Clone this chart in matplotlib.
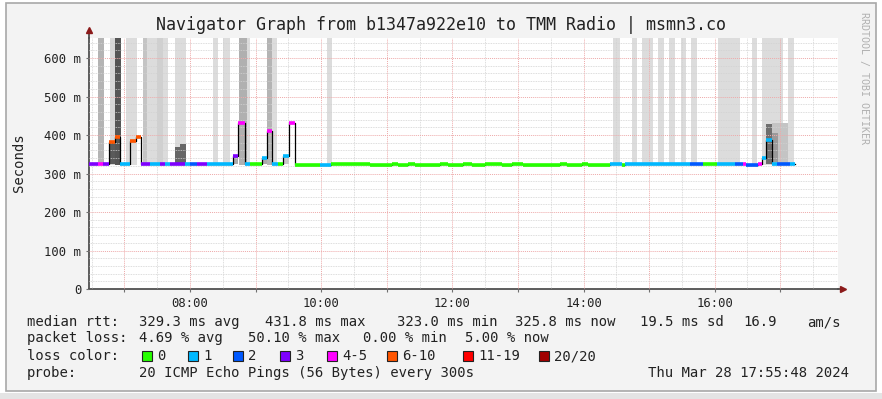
import matplotlib.pyplot as plt
import numpy as np
from matplotlib.patches import Rectangle

# median rtt steps (time in hours, rtt in ms, loss class index)
seg_edges = [6.46, 6.60, 6.67, 6.77, 6.86, 6.93, 7.09, 7.18, 7.25, 7.39, 7.54, 7.62, 7.70,
             7.92, 8.00, 8.11, 8.26, 8.66, 8.73, 8.84, 8.91, 9.10, 9.17, 9.25, 9.34, 9.42,
             9.51, 9.60, 9.98, 10.15, 10.74, 11.08, 11.17, 11.32, 11.43, 11.81, 11.93, 12.16,
             12.30, 12.50, 12.76, 12.91, 13.08, 13.64, 13.75, 13.98, 14.07, 14.40, 14.58,
             14.63, 15.62, 15.82, 16.03, 16.31, 16.43, 16.48, 16.66, 16.72, 16.78, 16.87,
             16.95, 17.15, 17.22]
seg_rtt = [326, 326, 326, 383, 394, 326, 385, 396, 326, 325, 326, 326, 326,
           325, 325, 325, 325, 345, 432, 325, 325, 340, 410, 325, 325, 345,
           430, 323, 323, 325, 322, 325, 322, 325, 322, 325, 322, 325,
           322, 325, 322, 325, 322, 325, 322, 325, 322, 324, 323,
           324, 324, 324, 324, 324, 324, 323, 324, 340, 388, 325,
           325, 325]
seg_loss = [3, 4, 3, 5, 5, 1, 5, 5, 3, 1, 3, 1, 3,
            1, 2, 3, 1, 3, 4, 1, 0, 1, 4, 1, 0, 1,
            4, 0, 1, 0, 0, 0, 0, 0, 0, 0, 0, 0,
            0, 0, 0, 0, 0, 0, 0, 0, 0, 1, 0,
            1, 2, 0, 1, 2, 4, 2, 4, 1, 1, 1,
            2, 1]

# smoke (ping spread) bands
smoke_start = [6.60, 6.78, 6.77, 6.86, 7.02, 7.28, 7.34, 7.50, 7.59, 7.77, 7.77, 7.85,
               8.35, 8.50, 8.66, 8.75, 8.87, 9.10, 9.17, 9.25, 9.42, 10.09,
               14.45, 14.74, 14.89, 15.13, 15.30, 15.48, 15.64, 16.05, 16.57, 16.72,
               16.78, 16.87, 16.87, 17.12]
smoke_end = [6.69, 6.86, 6.86, 6.95, 7.19, 7.34, 7.50, 7.59, 7.66, 7.94, 7.85, 7.94,
             8.43, 8.61, 8.73, 8.87, 8.91, 9.17, 9.25, 9.33, 9.51, 10.16,
             14.55, 14.81, 15.06, 15.23, 15.39, 15.56, 15.73, 16.38, 16.64, 17.04,
             16.87, 17.21, 16.97, 17.21]
smoke_low = [323, 323, 325, 323, 323, 323, 323, 323, 323, 323, 325, 325,
             323, 323, 325, 323, 323, 325, 323, 323, 325, 323,
             323, 323, 323, 323, 323, 323, 323, 323, 323, 323,
             325, 325, 330, 323]
smoke_high = [652, 652, 383, 652, 652, 652, 652, 652, 652, 652, 370, 377,
              652, 652, 345, 652, 652, 340, 652, 652, 345, 652,
              652, 652, 652, 652, 652, 652, 652, 652, 652, 652,
              428, 430, 405, 652]
smoke_shade = ['#b4b4b4', '#d8d8d8', '#5a5a5a', '#555555', '#dcdcdc', '#c4c4c4', '#dcdcdc',
               '#d0d0d0', '#dcdcdc', '#dcdcdc', '#666666', '#666666',
               '#dcdcdc', '#dcdcdc', '#aaaaaa', '#b0b0b0', '#dcdcdc', '#aaaaaa', '#b4b4b4',
               '#dcdcdc', '#c8c8c8', '#dcdcdc',
               '#dcdcdc', '#dcdcdc', '#dcdcdc', '#dcdcdc', '#dcdcdc', '#dcdcdc', '#dcdcdc',
               '#dcdcdc', '#dcdcdc', '#dcdcdc',
               '#6e6e6e', '#c4c4c4', '#9a9a9a', '#dcdcdc']

loss_labels = ['0', '1', '2', '3', '4-5', '6-10', '11-19', '20/20']
loss_colors = ['#26ff00', '#00b8ff', '#0059ff', '#7e00ff', '#ff00ff', '#ff5500', '#ff0000', '#a10000']

hours = [7, 8, 9, 10, 11, 12, 13, 14, 15, 16, 17]
rtt_ticks = [0, 100, 200, 300, 400, 500, 600]

W, H = 882, 399
def fx(px):
    return px / W
def fy(py):
    return 1 - py / H

plt.rcParams['font.family'] = ['DejaVu Sans Mono']

fig = plt.figure(figsize=(W / 100, H / 100), dpi=100, facecolor='white')
fig.patches.append(Rectangle((fx(6), fy(391)), fx(876) - fx(6), fy(3) - fy(391),
                             transform=fig.transFigure, facecolor='#f3f3f3',
                             edgecolor='#a8a8a8', lw=1.2, zorder=-10))
fig.patches.append(Rectangle((0, 0), 1, fy(393), transform=fig.transFigure,
                             facecolor='#e4e4e4', edgecolor='none', zorder=-10))

ax = fig.add_axes([fx(89), fy(289), fx(838) - fx(89), fy(38) - fy(289)])
ax.set_facecolor('white')

# smoke
for s, e, lo, hi, c in zip(smoke_start, smoke_end, smoke_low, smoke_high, smoke_shade):
    ax.fill_between([s, e], lo, hi, color=c, lw=0, zorder=1)

# median: black step + coloured loss segments
ax.step(seg_edges, seg_rtt + [seg_rtt[-1]], where='post', color='black', lw=0.9, zorder=3)
ax.hlines(seg_rtt, seg_edges[:-1], seg_edges[1:],
          colors=[loss_colors[i] for i in seg_loss], lw=2.6, zorder=4)

ax.set_xlim(6.46, 17.88)
ax.set_ylim(0, 652)

ax.set_xticks(hours)
ax.set_xticklabels(['%02d:00' % h if h % 2 == 0 else '' for h in hours])
ax.set_xticks(np.arange(6.5, 17.9, 1.0), minor=True)
ax.set_yticks(rtt_ticks)
ax.set_yticklabels(['%d m' % v if v else '0' for v in rtt_ticks])
ax.set_yticks(np.arange(0, 652, 20), minor=True)

ax.set_axisbelow(False)
ax.grid(which='minor', color='#d2d2d2', ls=(0, (1, 1)), lw=0.6, zorder=2)
ax.grid(which='major', color='#eeaaaa', ls=(0, (1, 1)), lw=0.7, zorder=2)
ax.tick_params(which='major', length=2.5, width=0.8, color='#707070', labelsize=8.8,
               labelcolor='#222222', pad=3)
ax.tick_params(which='minor', length=0)

for sp in ['top', 'right']:
    ax.spines[sp].set_visible(False)
for sp in ['left', 'bottom']:
    ax.spines[sp].set_color('#505050')
    ax.spines[sp].set_linewidth(1.3)
ax.plot([0, 0], [1, 1.03], transform=ax.transAxes, color='#505050', lw=1.3, clip_on=False)
ax.plot([1, 1.006], [0, 0], transform=ax.transAxes, color='#505050', lw=1.3, clip_on=False)
ax.plot([0], [1.033], marker='^', ms=5, color='#8b1a1a', transform=ax.transAxes, clip_on=False)
ax.plot([1.007], [0], marker='>', ms=5, color='#8b1a1a', transform=ax.transAxes, clip_on=False)

fig.text(fx(441), fy(25), 'Navigator Graph from b1347a922e10 to TMM Radio | msmn3.co',
         ha='center', va='center', fontsize=12, color='#222222')
fig.text(fx(19), fy(163), 'Seconds', rotation=90, ha='center', va='center',
         fontsize=10, color='#222222')
fig.text(fx(864), fy(78), 'RRDTOOL / TOBI OETIKER', rotation=270, ha='center', va='center',
         fontsize=7.2, color='#b0b0b0')

tsize = 10
tcol = '#222222'
lines = [
    (322, [(27, 'median rtt:'), (139, '329.3 ms avg'), (265, '431.8 ms max'),
           (397, '323.0 ms min'), (515, '325.8 ms now'), (640, '19.5 ms sd'),
           (743, '16.9'), (807, 'am/s')]),
    (338, [(27, 'packet loss:'), (139, '4.69 % avg'), (248, '50.10 % max'),
           (363, '0.00 % min'), (465, '5.00 % now')]),
    (373, [(27, 'probe:'), (139, '20 ICMP Echo Pings (56 Bytes) every 300s'),
           (648, 'Thu Mar 28 17:55:48 2024')]),
]
for y, parts in lines:
    for x, s in parts:
        fig.text(fx(x), fy(y), s, ha='left', va='center', fontsize=tsize, color=tcol)

fig.text(fx(27), fy(356), 'loss color:', ha='left', va='center', fontsize=tsize, color=tcol)
box_x = [142, 188, 233, 280, 327, 387, 463, 539]
for bx, lab, col in zip(box_x, loss_labels, loss_colors):
    fig.patches.append(Rectangle((fx(bx), fy(361)), fx(10), fx(10) * W / H,
                                 transform=fig.transFigure, facecolor=col,
                                 edgecolor='#222222', lw=0.8))
    fig.text(fx(bx + 15), fy(356), lab, ha='left', va='center', fontsize=tsize, color=tcol)

fig.savefig('out.png', dpi=100, facecolor=fig.get_facecolor())
